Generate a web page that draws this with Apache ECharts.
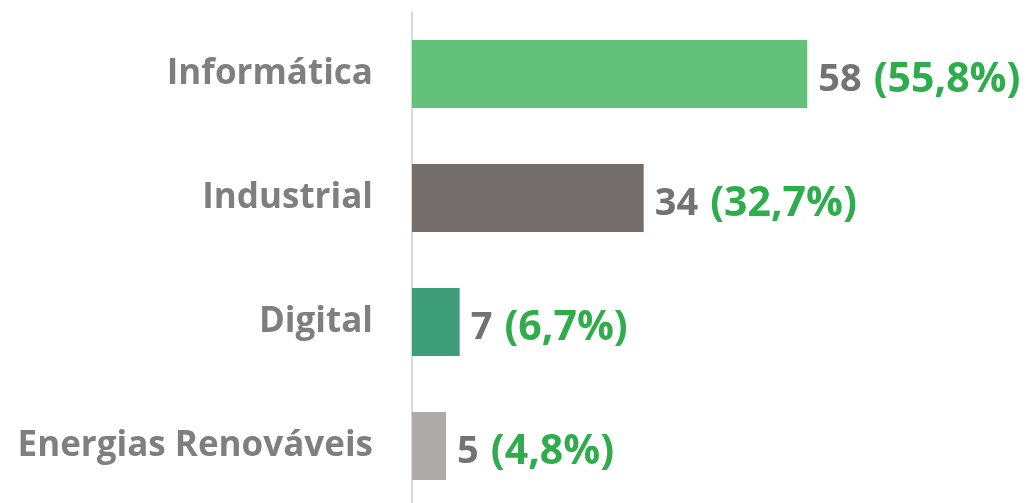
<!DOCTYPE html>
<html>
<head>
<meta charset="utf-8">
<script src="https://cdn.jsdelivr.net/npm/echarts@6/dist/echarts.min.js"></script>
<style>
  html, body { margin: 0; padding: 0; background: #fff; }
  #chart { width: 1028px; height: 503px; }
</style>
</head>
<body>
<div id="chart"></div>
<script>
const categories = ["Informática", "Industrial", "Digital", "Energias Renováveis"];
const values = [58, 34, 7, 5];
const shares = ["55,8%", "32,7%", "6,7%", "4,8%"];
const barColors = ["#64c17a", "#736e6c", "#3f9e7a", "#aeaaaa"];

const chart = echarts.init(document.getElementById("chart"));

chart.setOption({
  animation: false,
  grid: { left: 412, width: 477, top: 12, height: 496, containLabel: false, outerBoundsMode: "none" },
  xAxis: {
    type: "value",
    min: 0,
    max: 70,
    show: false
  },
  yAxis: {
    type: "category",
    inverse: true,
    data: categories,
    axisLine: { show: true, lineStyle: { color: "#d9d9d9", width: 2 } },
    axisTick: { show: false },
    axisLabel: {
      margin: 39,
      color: "#7f7f7f",
      fontFamily: "Open Sans",
      fontWeight: "bold",
      fontSize: 35
    }
  },
  series: [{
    type: "bar",
    barCategoryGap: "45%",
    data: values.map((v, i) => ({ value: v, itemStyle: { color: barColors[i] } })),
    label: {
      show: true,
      position: "right",
      distance: 11,
      offset: [0, 6],
      fontFamily: "Open Sans",
      formatter: p => "{v|" + p.value + "}{s| }{p|(" + shares[p.dataIndex] + ")}",
      rich: {
        v: { color: "#737373", fontFamily: "Open Sans", fontWeight: "bold", fontSize: 38 },
        s: { fontFamily: "Open Sans", fontSize: 38, width: 12 },
        p: { color: "#2fac4c", fontFamily: "Open Sans", fontWeight: "bold", fontSize: 41 }
      }
    }
  }]
});
</script>
</body>
</html>
